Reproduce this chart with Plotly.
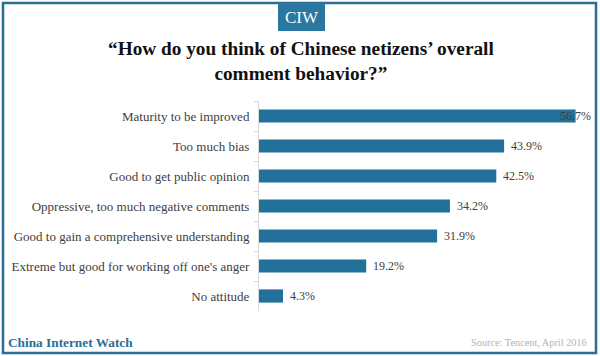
import plotly.graph_objects as go

categories = [
    "Maturity to be improved",
    "Too much bias",
    "Good to get public opinion",
    "Oppressive, too much negative comments",
    "Good to gain a comprehensive understanding",
    "Extreme but good for working off one's anger",
    "No attitude",
]
values = [56.7, 43.9, 42.5, 34.2, 31.9, 19.2, 4.3]
value_labels = ["56.7%", "43.9%", "42.5%", "34.2%", "31.9%", "19.2%", "4.3%"]

W, H = 600, 356
L, R, T, B = 259, 6, 101, 45
PW, PH = W - L - R, H - T - B

def px(x):
    return (x - L) / PW

def py(y):
    return 1 - (y - T) / PH

BAR = "#21719b"
FRAME = "#2a6e96"
SERIF = "Liberation Serif"

fig = go.Figure()
fig.add_trace(go.Bar(
    x=values, y=categories, orientation="h",
    marker=dict(color=BAR, line=dict(width=0)),
    width=0.44, hoverinfo="skip",
))

annotations = []
for i, (v, lab) in enumerate(zip(values, value_labels)):
    if v == max(values):
        annotations.append(dict(x=v, y=categories[i], xref="x", yref="y", text=lab,
                                showarrow=False, xanchor="right", xshift=17,
                                font=dict(family=SERIF, size=12, color="#404040")))
    else:
        annotations.append(dict(x=v, y=categories[i], xref="x", yref="y", text=lab,
                                showarrow=False, xanchor="left", xshift=5,
                                font=dict(family=SERIF, size=12, color="#404040")))

# CIW badge
annotations.append(dict(x=px(301.5), y=py(17), xref="paper", yref="paper", text="CIW",
                        showarrow=False, xanchor="center", yanchor="middle",
                        font=dict(family=SERIF, size=17, color="white")))
# Title
annotations.append(dict(x=px(301), y=py(61), xref="paper", yref="paper",
                        text="<b>“How do you think of Chinese netizens’ overall<br>comment behavior?”</b>",
                        showarrow=False, xanchor="center", yanchor="middle",
                        font=dict(family=SERIF, size=19.3, color="#111111")))
# Footer
annotations.append(dict(x=px(6), y=py(342), xref="paper", yref="paper",
                        text="<b>China Internet Watch</b>", showarrow=False,
                        xanchor="left", yanchor="middle",
                        font=dict(family=SERIF, size=13.3, color="#2a6e96")))
annotations.append(dict(x=px(589), y=py(342), xref="paper", yref="paper",
                        text="Source: Tencent, April 2016", showarrow=False,
                        xanchor="right", yanchor="middle",
                        font=dict(family=SERIF, size=10.3, color="#b3b3b3")))

shapes = [
    dict(type="rect", xref="paper", yref="paper", x0=px(3), x1=px(596), y0=py(3), y1=py(353),
         line=dict(color=FRAME, width=2.5), fillcolor="rgba(0,0,0,0)", layer="above"),
    dict(type="rect", xref="paper", yref="paper", x0=px(278), x1=px(325), y0=py(3), y1=py(31),
         line=dict(width=0), fillcolor="#2a77a0"),
]

fig.update_layout(
    width=W, height=H,
    margin=dict(l=L, r=R, t=T, b=B, pad=0),
    paper_bgcolor="white", plot_bgcolor="white",
    showlegend=False,
    xaxis=dict(range=[0, 60], visible=False, fixedrange=True),
    yaxis=dict(autorange="reversed", showline=True, linecolor="#d9d9d9", linewidth=1,
               ticks="outside", tickson="boundaries", ticklen=4, tickcolor="#d9d9d9",
               ticklabelstandoff=6,
               tickfont=dict(family=SERIF, size=13, color="#404040"),
               showgrid=False, fixedrange=True),
    annotations=annotations,
    shapes=shapes,
    bargap=0.56,
)

fig.write_html("out.html", config={"displayModeBar": False},
               post_script="document.body.style.margin='0';document.body.style.overflow='hidden';")
